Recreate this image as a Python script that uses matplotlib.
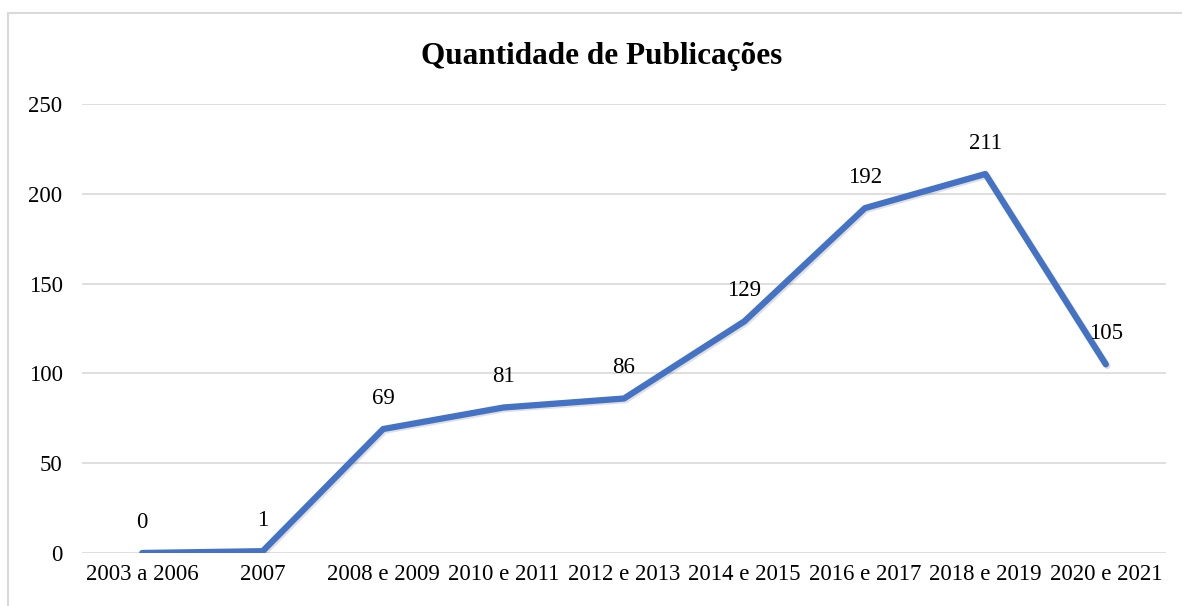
import matplotlib.pyplot as plt
import matplotlib.patheffects as pe
from matplotlib.patches import Rectangle

periodos = ["2003 a 2006", "2007", "2008 e 2009", "2010 e 2011", "2012 e 2013",
            "2014 e 2015", "2016 e 2017", "2018 e 2019", "2020 e 2021"]
publicacoes = [0, 1, 69, 81, 86, 129, 192, 211, 105]
yticks = [0, 50, 100, 150, 200, 250]

plt.rcParams['font.family'] = ['Liberation Serif', 'DejaVu Serif']

fig = plt.figure(figsize=(11.82, 6.06), dpi=100)
ax = fig.add_axes([0.0694, 0.0875, 0.9171, 0.741])

# moldura do grafico (estilo Excel)
fig.patches.append(Rectangle((8 / 1182, -0.1), 1.2, (606 - 13) / 606 + 0.1,
                             transform=fig.transFigure, fill=False,
                             edgecolor='#d9d9d9', linewidth=1.5))

x = range(len(periodos))
ax.plot(x, publicacoes, color='#4472C4', linewidth=4.5, solid_capstyle='round',
        solid_joinstyle='round',
        path_effects=[pe.SimpleLineShadow(offset=(1.2, -1.2), alpha=0.12),
                      pe.Normal()], zorder=3)

for xi, v in zip(x, publicacoes):
    ax.annotate(str(v), (xi, v), xytext=(0, 22), textcoords='offset points',
                ha='center', va='center', fontsize=16.5, color='#000000')

ax.set_xlim(-0.5, len(periodos) - 0.5)
ax.set_ylim(0, 250)
ax.set_yticks(yticks)
ax.set_xticks(list(x))
ax.set_xticklabels(periodos)
ax.grid(axis='y', color='#d9d9d9', linewidth=1.2)
ax.set_axisbelow(True)
for s in ax.spines.values():
    s.set_visible(False)
ax.tick_params(axis='both', length=0, labelsize=16.5, colors='#000000')
ax.tick_params(axis='y', pad=14)
ax.tick_params(axis='x', pad=8)

fig.text(0.509, 0.906, "Quantidade de Publicações", ha='center', va='center',
         fontsize=22.5, fontweight='bold')

fig.savefig('out.png', dpi=100)
